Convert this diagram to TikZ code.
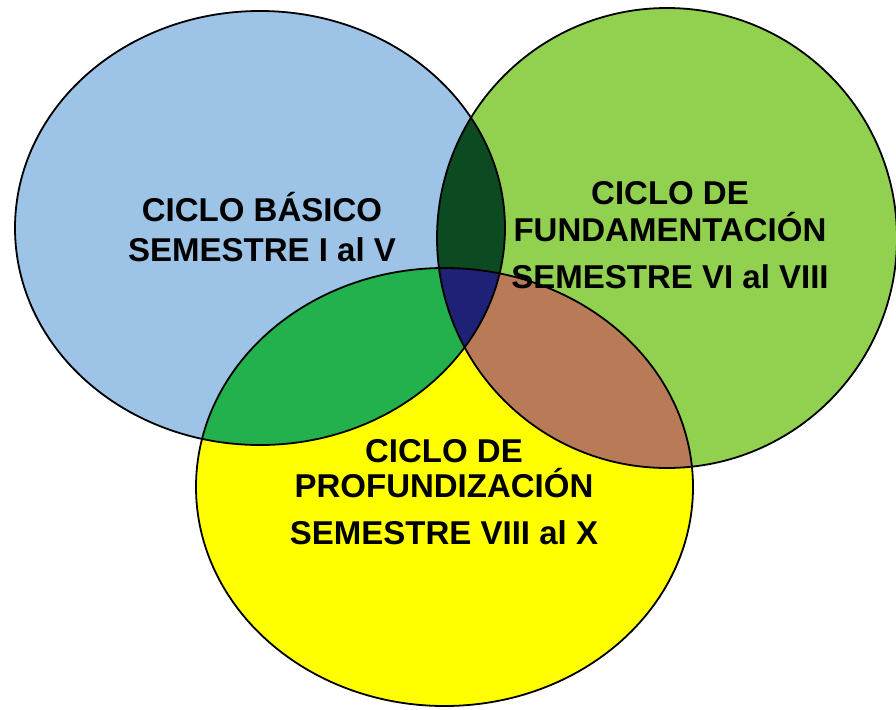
\documentclass[tikz,border=0pt]{standalone}
\usepackage{fontspec}
\setmainfont{Liberation Sans}
\definecolor{cblue}{HTML}{9DC3E6}
\definecolor{cgreen}{HTML}{92D050}
\definecolor{cyellow}{HTML}{FFFF00}
\definecolor{cbg}{HTML}{0C4A22}
\definecolor{cby}{HTML}{22B14C}
\definecolor{cgy}{HTML}{B97A57}
\definecolor{cmid}{HTML}{1E2176}
\tikzset{
  lbl/.style={anchor=base, inner sep=0pt, font=\fontsize{33}{40}\selectfont\bfseries},
  rim/.style={draw=black, line width=1.8pt}
}
\begin{document}
\begin{tikzpicture}[x=1pt,y=-1pt]
\useasboundingbox (0,0) rectangle (896,709);
\def\blueE{(260,228) ellipse [x radius=245, y radius=217]}
\def\greenE{(667,238) ellipse [x radius=230, y radius=230]}
\def\yelE{(444.5,487) ellipse [x radius=248.5, y radius=219]}
% base fills
\fill[cblue] \blueE;
\fill[cgreen] \greenE;
\fill[cyellow] \yelE;
% pairwise overlaps
\begin{scope}
  \clip \blueE;
  \fill[cbg] \greenE;
  \fill[cby] \yelE;
\end{scope}
\begin{scope}
  \clip \greenE;
  \fill[cgy] \yelE;
\end{scope}
\begin{scope}
  \clip \blueE;
  \clip \greenE;
  \fill[cmid] \yelE;
\end{scope}
% outlines
\draw[rim] \blueE;
\draw[rim] \greenE;
\draw[rim] \yelE;
% labels
\node[lbl] (b1) at (262,221) {CICLO BÁSICO};
\node[lbl] (b2) at (262,261) {SEMESTRE I al V};
\node[lbl] (g1) at (670,204) {CICLO DE};
\node[lbl] (g2) at (670,241) {FUNDAMENTACIÓN};
\node[lbl] (g3) at (670,288) {SEMESTRE VI al VIII};
\node[lbl] (y1) at (444,462) {CICLO DE};
\node[lbl] (y2) at (444,497) {PROFUNDIZACIÓN};
\node[lbl] (y3) at (444,544) {SEMESTRE VIII al X};
\end{tikzpicture}
\end{document}
